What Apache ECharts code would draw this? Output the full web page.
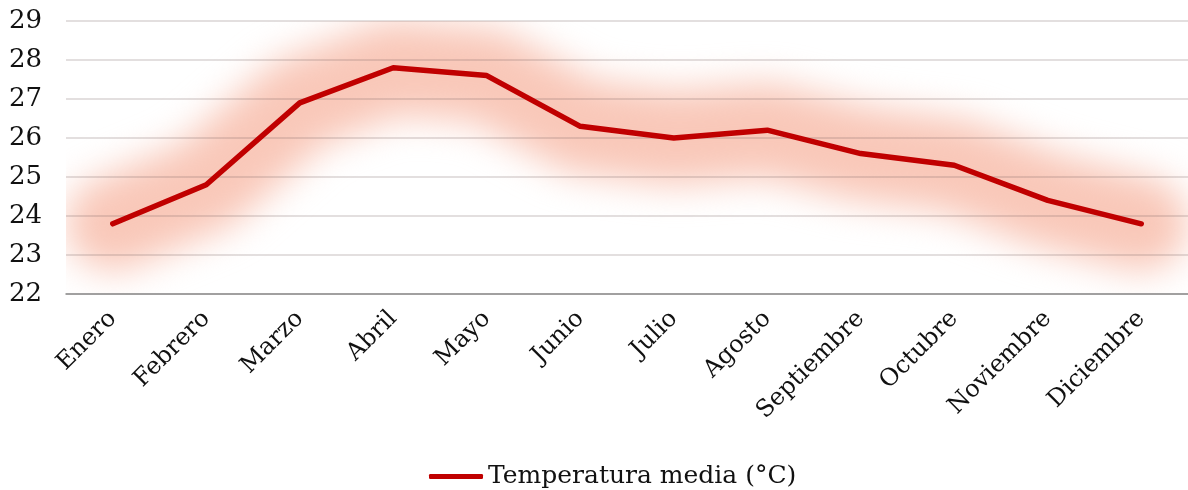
<!DOCTYPE html>
<html>
<head>
<meta charset="utf-8">
<script src="https://cdn.jsdelivr.net/npm/echarts@6/dist/echarts.min.js"></script>
<style>
  html, body { margin: 0; padding: 0; background: #fff; }
  .wrap { position: relative; width: 1188px; height: 490px; }
  /* la capa del resplandor se recorta al área del gráfico */
  .glow-clip { position: absolute; left: 66px; top: 21px; width: 1122px; height: 273px; overflow: hidden; }
  #glow { position: absolute; left: -66px; top: -21px; width: 1188px; height: 490px; filter: blur(18px); }
  #chart { position: absolute; left: 0; top: 0; width: 1188px; height: 490px; }
</style>
</head>
<body>
<div class="wrap">
  <div class="glow-clip"><div id="glow"></div></div>
  <div id="chart"></div>
</div>
<script>
  // meses y temperatura media
  var meses = ['Enero', 'Febrero', 'Marzo', 'Abril', 'Mayo', 'Junio', 'Julio', 'Agosto', 'Septiembre', 'Octubre', 'Noviembre', 'Diciembre'];
  var temperatura = [23.8, 24.8, 26.9, 27.8, 27.6, 26.3, 26.0, 26.2, 25.6, 25.3, 24.4, 23.8];
  var serieNombre = 'Temperatura media (°C)';

  var fuente = 'DejaVu Serif';
  var grid = { left: 66, top: 21, width: 1128, height: 273 };

  // capa de fondo: línea gruesa difuminada con CSS
  var glowChart = echarts.init(document.getElementById('glow'));
  glowChart.setOption({
    animation: false,
    grid: grid,
    xAxis: { type: 'category', data: meses, boundaryGap: true, show: false },
    yAxis: { type: 'value', min: 22, max: 29, interval: 1, show: false },
    series: [{
      type: 'line',
      data: temperatura,
      symbol: 'none',
      silent: true,
      itemStyle: { color: '#f9c8b9' },
      lineStyle: { width: 94, color: '#f9c8b9', cap: 'round', join: 'round' }
    }]
  });

  var myChart = echarts.init(document.getElementById('chart'));
  myChart.setOption({
    animation: false,
    backgroundColor: 'transparent',
    textStyle: { fontFamily: fuente },
    grid: grid,
    legend: {
      data: [serieNombre],
      top: 459,
      left: 424,
      icon: 'roundRect',
      itemWidth: 54,
      itemHeight: 5,
      textStyle: { fontFamily: fuente, fontSize: 25, color: '#111' }
    },
    xAxis: {
      type: 'category',
      data: meses,
      boundaryGap: true,
      axisTick: { show: false },
      axisLine: { lineStyle: { color: '#8c8c8c', width: 1.5 } },
      axisLabel: { rotate: 45, margin: 21, fontSize: 24, color: '#111', fontFamily: fuente, interval: 0 }
    },
    yAxis: {
      type: 'value',
      min: 22,
      max: 29,
      interval: 1,
      axisLine: { show: false },
      axisTick: { show: false },
      splitLine: { lineStyle: { color: 'rgba(110,90,90,0.26)', width: 1.5 } },
      axisLabel: { margin: 24, fontSize: 26, color: '#111', fontFamily: fuente }
    },
    series: [{
      name: serieNombre,
      type: 'line',
      data: temperatura,
      symbol: 'none',
      itemStyle: { color: '#c00000' },
      lineStyle: { width: 5.5, color: '#c00000', cap: 'round', join: 'round' }
    }]
  });
</script>
</body>
</html>
